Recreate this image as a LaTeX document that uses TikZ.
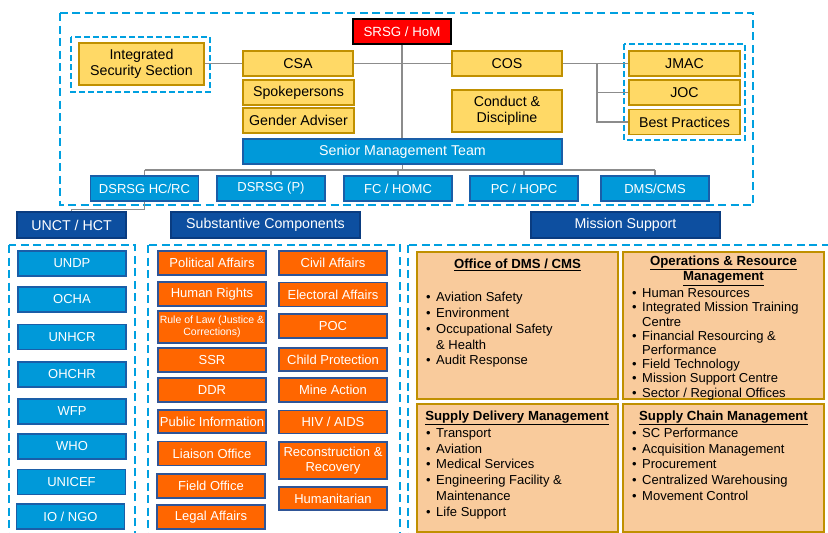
\documentclass[tikz,border=0pt]{standalone}
\usepackage{fontspec}
\setmainfont{Liberation Sans}
\usetikzlibrary{positioning,calc}

\definecolor{srsgred}{HTML}{FF0000}
\definecolor{offyellow}{HTML}{FFD966}
\definecolor{offborder}{HTML}{C09000}
\definecolor{mgmtblue}{HTML}{0099D9}
\definecolor{mgmtborder}{HTML}{1A5EA8}
\definecolor{pillarblue}{HTML}{0D4FA0}
\definecolor{pillarborder}{HTML}{0A3C80}
\definecolor{secorange}{HTML}{FF6600}
\definecolor{secborder}{HTML}{2F5597}
\definecolor{suptan}{HTML}{F9CB9C}
\definecolor{dashblue}{HTML}{00A0E0}
\definecolor{linegray}{HTML}{8C8C8C}

\newcommand{\bul}{\makebox[10pt][l]{\textbullet}}
\newcommand{\gap}{\hspace*{10pt}}

\begin{document}
\begin{tikzpicture}[
    x=1pt, y=-1pt,
    every node/.style={font=\fontsize{13}{15}\selectfont, align=center, inner sep=0pt},
    big/.style={font=\fontsize{14.2}{16.5}\selectfont},
    unit/.style={draw, line width=1.4pt, minimum width=108pt, minimum height=25pt},
    head/.style={unit, fill=srsgred, draw=black, text=white, minimum width=98pt, font=\fontsize{13.3}{15}\selectfont},
    office/.style={unit, big, fill=offyellow, draw=offborder, text=black},
    mgmt/.style={unit, fill=mgmtblue, draw=mgmtborder, text=white},
    pillar/.style={unit, big, fill=pillarblue, draw=pillarborder, text=white, minimum width=189pt, minimum height=26pt},
    section/.style={unit, fill=secorange, draw=secborder, text=white, minimum height=24pt},
    support/.style={draw=offborder, line width=1.4pt, fill=suptan, minimum width=201pt, minimum height=147pt},
    cluster/.style={draw=dashblue, line width=2.8pt, dash pattern=on 8pt off 4.5pt},
    subcluster/.style={draw=dashblue, line width=2pt, dash pattern=on 6pt off 3pt},
    link/.style={draw=linegray, line width=1.2pt},
    heading/.style={font=\fontsize{13.2}{16}\selectfont\bfseries, text=black},
    duties/.style={anchor=north west, align=left, text=black}
    ]

\fill[white] (0,0) rectangle (828,533);
\useasboundingbox (0,0) rectangle (828,533);

% dashed groups
\draw[cluster] (60,13) rectangle (753,205);
\draw[subcluster] (71,37) rectangle (210,92);
\draw[subcluster] (624,44) rectangle (745,140);
\draw[cluster] (9,245) rectangle (135,560);
\draw[cluster] (148,245) rectangle (400,560);
\draw[cluster] (408,245) rectangle (860,560);

% head of mission and front office
\node[head] (srsg) at (402,31.5) {SRSG / HoM};
\node[office, minimum width=125pt, minimum height=42pt] (iss) at (141.5,64) {Integrated\\Security Section};
\node[office, minimum width=110pt] (csa) at (298,63.5) {CSA};
\node[office, minimum width=111pt] (spokes) at (298.5,92.5) {Spokepersons};
\node[office, minimum width=111pt] (gender) at (298.5,120.5) {Gender Adviser};
\node[office, minimum width=110pt] (cos) at (507,63.5) {COS};
\node[office, minimum width=110pt, minimum height=42pt] (cdt) at (507,111) {Conduct \&\\Discipline};
\node[office, minimum width=111pt] (jmac) at (684.5,63.5) {JMAC};
\node[office, minimum width=111pt] (joc) at (684.5,92.5) {JOC};
\node[office, minimum width=111pt] (bestpr) at (684.5,122) {Best Practices};
\node[mgmt, big, minimum width=319pt] (smt) at (402.5,151.5) {Senior Management Team};

% senior management
\node[mgmt] (dhc) at (144.5,188.5) {DSRSG HC/RC};
\node[mgmt] (dp) at (271,188.5) {DSRSG (P)};
\node[mgmt] (fc) at (398,188.5) {FC / HOMC};
\node[mgmt] (pc) at (524,188.5) {PC / HOPC};
\node[mgmt] (dms) at (655,188.5) {DMS/CMS};

% pillars
\node[pillar, minimum width=109pt] (unct) at (71.5,225) {UNCT / HCT};
\node[pillar] (subst) at (265.5,225) {Substantive Components};
\node[pillar] (missup) at (625.5,225) {Mission Support};

% links
\draw[link] (srsg.south) -- (srsg.south |- smt.north);
\draw[link] (iss.east |- csa) -- (csa.west);
\draw[link] (csa) -- (cos);
\draw[link] (cos) -- (jmac);
\coordinate (fork) at (597,63.5);
\draw[link] (fork) |- (bestpr.west);
\draw[link] (fork |- joc) -- (joc.west);
\coordinate (bus) at (402.5,170);
\draw[link] (smt.south) -- (bus);
\draw[link] (dhc.north |- bus) -- (dms.north |- bus);
\foreach \n in {dhc,dp,fc,pc,dms}
    \draw[link] (\n.north |- bus) -- (\n.north);
\draw[link] (dhc.south) -- ++(0,8) -| (unct.north);

% UN country team
\node[mgmt] (undp) at (72,263.5) {UNDP};
\node[mgmt] (ocha) at (72,299.5) {OCHA};
\node[mgmt] (unhcr) at (72,337) {UNHCR};
\node[mgmt] (ohchr) at (72,374.5) {OHCHR};
\node[mgmt] (wfp) at (72,411.5) {WFP};
\node[mgmt] (who) at (72,446.5) {WHO};
\node[mgmt] (unicef) at (71.5,482) {UNICEF};
\node[mgmt] (iongo) at (70.5,516.5) {IO / NGO};

% substantive sections
\node[section] (polaff) at (212,263) {Political Affairs};
\node[section] (humrts) at (212,294) {Human Rights};
\node[section, minimum height=32pt, font=\fontsize{10.5}{12}\selectfont] (rol) at (212,327) {Rule of Law (Justice \&\\Corrections)};
\node[section] (ssr) at (212,360) {SSR};
\node[section] (ddr) at (212,390) {DDR};
\node[section, minimum height=23pt] (pubinf) at (212,421.5) {Public Information};
\node[section] (liaison) at (212,453.5) {Liaison Office};
\node[section] (field) at (211,486) {Field Office};
\node[section] (legal) at (211,517) {Legal Affairs};
\node[section] (civaff) at (333,263) {Civil Affairs};
\node[section] (elect) at (333,294.5) {Electoral Affairs};
\node[section] (poc) at (333,326) {POC};
\node[section, minimum height=23pt] (child) at (333,359.5) {Child Protection};
\node[section] (mine) at (333,390) {Mine Action};
\node[section, minimum height=23pt] (hiv) at (333,422) {HIV / AIDS};
\node[section, minimum height=37pt] (recon) at (333,460.5) {Reconstruction \&\\Recovery};
\node[section, minimum height=23pt] (human) at (333,498.5) {Humanitarian};

% mission support
\node[support] (odms) at (517.5,325.5) {};
\node[support] (orm) at (723.5,325.5) {};
\node[support, minimum height=128pt] (sdm) at (517.5,468) {};
\node[support, minimum height=128pt] (scm) at (723.5,468) {};

\node[heading] (odmshd) at (517.5,265) {\underline{Office of DMS / CMS}};
\node[duties, font=\fontsize{13}{15.8}\selectfont] (odmsls) at (426,290.4)
    {\strut\bul Aviation Safety\\\bul Environment\\\bul Occupational Safety\\\gap\& Health\\\bul Audit Response};
\node[heading, font=\fontsize{13.2}{15.5}\selectfont\bfseries] (ormhd) at (723.5,270.5) {\underline{Operations \& Resource}\\\underline{Management}};
\node[duties, font=\fontsize{13}{14.2}\selectfont] (ormls) at (632,287.5)
    {\strut\bul Human Resources\\\bul Integrated Mission Training\\\gap Centre\\\bul Financial Resourcing \&\\\gap Performance\\\bul Field Technology\\\bul Mission Support Centre\\\bul Sector / Regional Offices};
\node[heading] (sdmhd) at (517,418) {\underline{Supply Delivery Management}};
\node[duties, font=\fontsize{13}{15.8}\selectfont] (sdmls) at (426,426)
    {\strut\bul Transport\\\bul Aviation\\\bul Medical Services\\\bul Engineering Facility \&\\\gap Maintenance\\\bul Life Support};
\node[heading] (scmhd) at (723.5,418) {\underline{Supply Chain Management}};
\node[duties, font=\fontsize{13}{15.8}\selectfont] (scmls) at (632,426)
    {\strut\bul SC Performance\\\bul Acquisition Management\\\bul Procurement\\\bul Centralized Warehousing\\\bul Movement Control};

\end{tikzpicture}
\end{document}
